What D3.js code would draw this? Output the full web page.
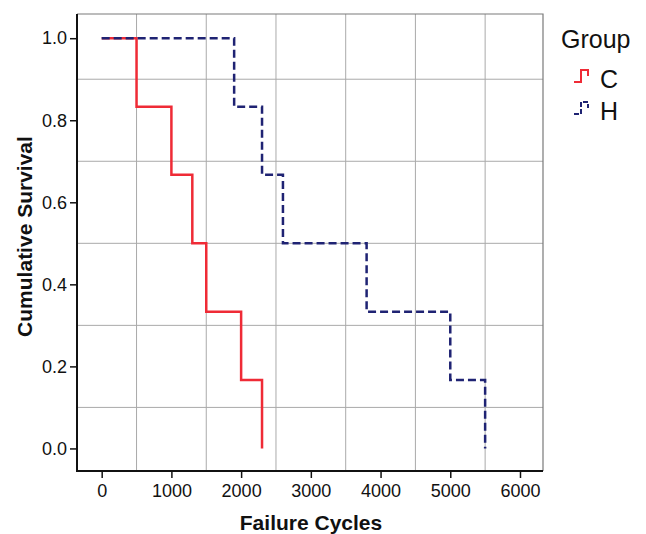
<!DOCTYPE html>
<html>
<head>
<meta charset="utf-8">
<script src="https://cdn.jsdelivr.net/npm/d3@7"></script>
<style>
  body { margin: 0; background: #fff; }
  svg { font-family: "Liberation Sans", Arial, sans-serif; }
</style>
</head>
<body>
<div id="chart"></div>
<script>
// Kaplan-Meier steps
var cTimes = [0, 500, 1000, 1300, 1500, 2000, 2300]
var cSurv  = [1, 0.833, 0.667, 0.5, 0.333, 0.167, 0]
var hTimes = [0, 1900, 2300, 2600, 3800, 5000, 5500]
var hSurv  = [1, 0.833, 0.667, 0.5, 0.333, 0.167, 0]

var xTicks = [0, 1000, 2000, 3000, 4000, 5000, 6000]
var yTicks = [0, 0.2, 0.4, 0.6, 0.8, 1.0]
var xGrid = [500, 1500, 2500, 3500, 4500, 5500]
var yGrid = [0.1, 0.3, 0.5, 0.7, 0.9]

var groups = ["C", "H"]

// plot frame (pixels)
var W = 646, H = 534
var pL = 77, pR = 543, pT = 14, pB = 471

var svg = d3.select("#chart")
  .append("svg")
    .attr("width", W)
    .attr("height", H)

var x = d3.scaleLinear()
  .domain([-354, 6330])
  .range([pL, pR])

var y = d3.scaleLinear()
  .domain([-0.055, 1.059])
  .range([pB, pT])

// grid
svg.append("g")
  .selectAll("line")
  .data(xGrid)
  .enter().append("line")
    .attr("x1", function(d) { return x(d) })
    .attr("x2", function(d) { return x(d) })
    .attr("y1", pT).attr("y2", pB)
    .attr("stroke", "#aaaaaa").attr("stroke-width", 1)

svg.append("g")
  .selectAll("line")
  .data(yGrid)
  .enter().append("line")
    .attr("y1", function(d) { return y(d) })
    .attr("y2", function(d) { return y(d) })
    .attr("x1", pL).attr("x2", pR)
    .attr("stroke", "#aaaaaa").attr("stroke-width", 1)

// top / right frame
svg.append("path")
  .attr("d", "M" + pL + "," + pT + "H" + pR + "V" + pB)
  .attr("fill", "none")
  .attr("stroke", "#7a7a7a")
  .attr("stroke-width", 1.2)

// axes
var xAxis = svg.append("g")
  .attr("transform", "translate(0," + pB + ")")
  .call(d3.axisBottom(x).tickValues(xTicks).tickSize(7).tickPadding(6).tickSizeOuter(0).tickFormat(d3.format("d")))
xAxis.select(".domain").attr("stroke", "#111").attr("stroke-width", 2)
  .attr("d", "M" + pL + ",0H" + pR)
xAxis.selectAll(".tick line").attr("stroke", "#111").attr("stroke-width", 1.5)
xAxis.selectAll("text").style("font-size", "18px").attr("fill", "#111")

var yAxis = svg.append("g")
  .attr("transform", "translate(" + pL + ",0)")
  .call(d3.axisLeft(y).tickValues(yTicks).tickSize(7).tickPadding(3).tickSizeOuter(0).tickFormat(d3.format(".1f")))
yAxis.select(".domain").attr("stroke", "#111").attr("stroke-width", 2)
  .attr("d", "M0," + pT + "V" + (pB + 1))
yAxis.selectAll(".tick line").attr("stroke", "#111").attr("stroke-width", 1.5)
yAxis.selectAll("text").style("font-size", "18px").attr("fill", "#111")

// survival curves
var step = d3.line()
  .x(function(d) { return x(d[0]) })
  .y(function(d) { return y(d[1]) })
  .curve(d3.curveStepAfter)

svg.append("path")
  .datum(d3.zip(cTimes, cSurv))
  .attr("d", step)
  .attr("fill", "none")
  .attr("stroke", "#ef2b36")
  .attr("stroke-width", 2.5)

svg.append("path")
  .datum(d3.zip(hTimes, hSurv))
  .attr("d", step)
  .attr("fill", "none")
  .attr("stroke", "#1f2373")
  .attr("stroke-width", 2.5)
  .attr("stroke-dasharray", "8,4")

// axis titles
svg.append("text")
  .attr("x", (pL + pR) / 2 + 1)
  .attr("y", 530)
  .attr("text-anchor", "middle")
  .style("font-size", "21px")
  .style("font-weight", "bold")
  .attr("fill", "#111")
  .text("Failure Cycles")

svg.append("text")
  .attr("transform", "translate(32," + ((pT + pB) / 2 - 6) + ")rotate(-90)")
  .attr("text-anchor", "middle")
  .style("font-size", "21px")
  .style("font-weight", "bold")
  .attr("fill", "#111")
  .text("Cumulative Survival")

// legend
svg.append("text")
  .attr("x", 561).attr("y", 48)
  .style("font-size", "25px")
  .attr("fill", "#111")
  .text("Group")

var legendStyle = [
  { color: "#ef2b36", dash: null },
  { color: "#1f2373", dash: "5,2" }
]

var lg = svg.append("g")
  .selectAll("g")
  .data(groups)
  .enter().append("g")
    .attr("transform", function(d, i) { return "translate(0," + (i * 32) + ")" })

lg.append("path")
  .attr("d", "M574,82H581V70H588V76")
  .attr("fill", "none")
  .attr("stroke", function(d, i) { return legendStyle[i].color })
  .attr("stroke-width", 2)
  .attr("stroke-dasharray", function(d, i) { return legendStyle[i].dash })

lg.append("text")
  .attr("x", 600).attr("y", 88)
  .style("font-size", "25px")
  .attr("fill", "#111")
  .text(function(d) { return d })
</script>
</body>
</html>
